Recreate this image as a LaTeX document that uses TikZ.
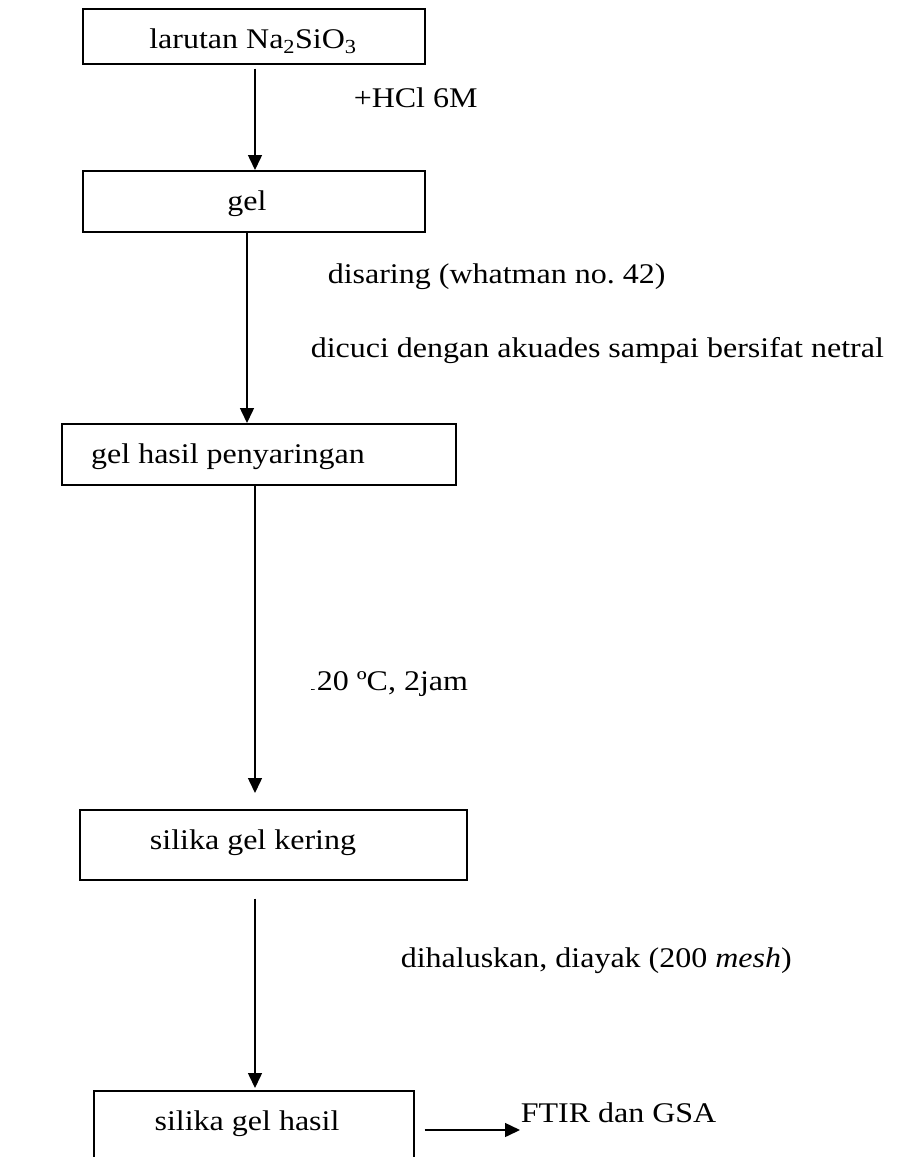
\documentclass[tikz,border=0pt]{standalone}
\usepackage{fontspec}
\setmainfont{Liberation Serif}
\usetikzlibrary{arrows.meta}
\newcommand{\sq}[1]{\scalebox{1}[0.89]{\frenchspacing #1}}
\begin{document}
\begin{tikzpicture}[x=1pt,y=-1pt, line width=1.5pt,
  box/.style={draw, rectangle, inner sep=0pt, anchor=north west},
  txt/.style={inner sep=0pt, anchor=base, font=\fontsize{32}{37}\selectfont},
  lbl/.style={inner sep=0pt, anchor=base west, font=\fontsize{32}{37}\selectfont},
  arr/.style={-{Triangle[length=15pt,width=14pt]}}]
\useasboundingbox (0,0) rectangle (902,1157);
\clip (0,0) rectangle (902,1157);
% boxes
\node[box, minimum width=342pt, minimum height=55pt] (b1) at (82,8) {};
\node[box, minimum width=342pt, minimum height=61pt] (b2) at (82,170) {};
\node[box, minimum width=394pt, minimum height=61pt] (b3) at (61,423) {};
\node[box, minimum width=387pt, minimum height=70pt] (b4) at (79,809) {};
\node[box, minimum width=320pt, minimum height=100pt] (b5) at (93,1090) {};
% box texts
\node[txt] (t1) at (253,48) {\sq{larutan Na\textsubscript{2}SiO\textsubscript{3}}};
\node[txt] (t2) at (247,210) {\sq{gel}};
\node[txt] (t3) at (228,463) {\sq{gel hasil penyaringan}};
\node[txt] (t4) at (253,849) {\sq{silika gel kering}};
\node[txt] (t5) at (247,1130) {\sq{silika gel hasil}};
% labels
\node[lbl] (l1) at (353,107) {\sq{+HCl 6M}};
\node[lbl] (l2) at (327,283) {\sq{disaring (whatman no. 42)}};
\node[lbl] (l3) at (310,357) {\sq{dicuci dengan akuades sampai bersifat netral}};
\begin{scope}
\clip (311,640) rectangle (620,720);
\node[lbl] (l4) at (300,690) {\sq{120 ºC, 2jam}};
\end{scope}
\node[lbl] (l5) at (400,967) {\sq{dihaluskan, diayak (200 \textit{mesh})}};
\node[lbl] (l6) at (520,1122) {\sq{FTIR dan GSA}};
% connectors
\coordinate (xa) at (255,0);
\coordinate (xb) at (247,0);
\coordinate (ya) at (0,1130);
\draw[arr, shorten <=4pt] (b1.south -| xa) -- (b2.north -| xa);
\draw[arr] (b2.south -| xb) -- (b3.north -| xb);
\draw[arr, shorten >=16pt] (b3.south -| xa) -- (b4.north -| xa);
\draw[arr, shorten <=18pt, shorten >=2pt] (b4.south -| xa) -- (b5.north -| xa);
\draw[arr, shorten <=10pt] (b5.east |- ya) -- (l6.west |- ya);
\end{tikzpicture}
\end{document}
